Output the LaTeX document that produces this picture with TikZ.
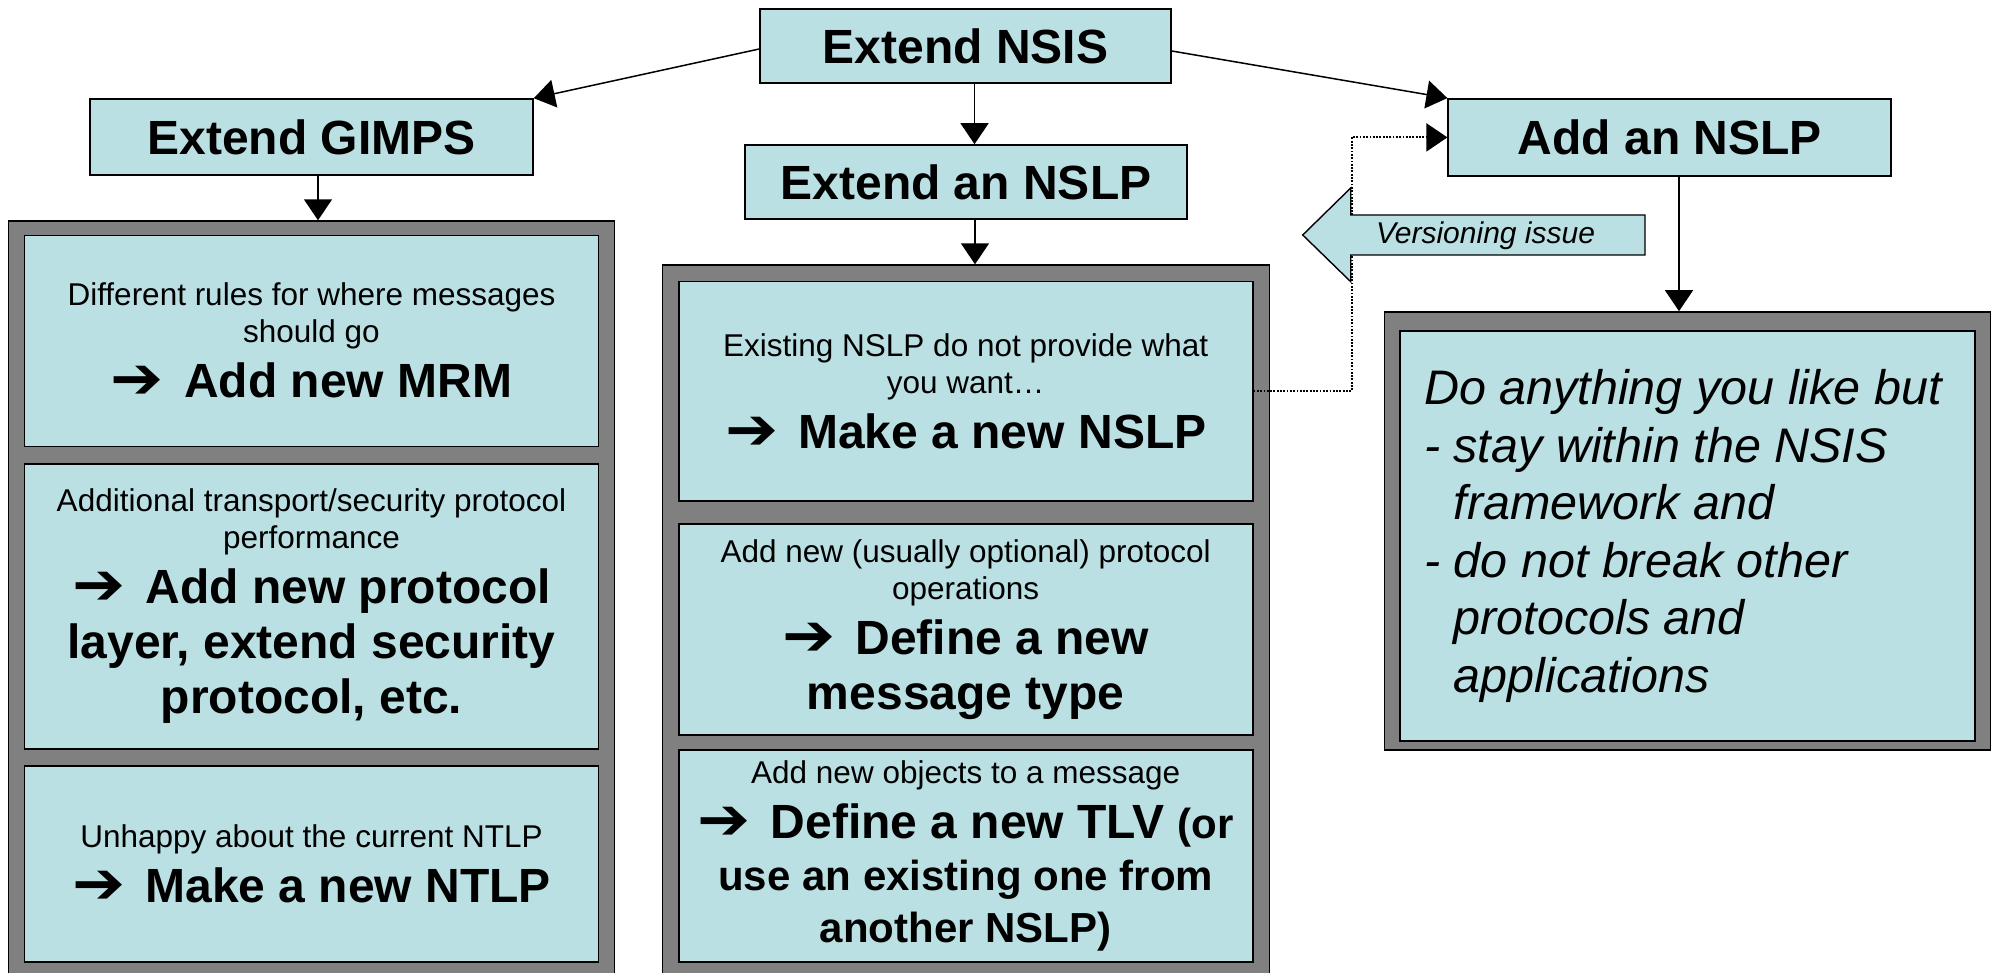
\documentclass[tikz,border=0pt]{standalone}
\usepackage{fontspec}
\usepackage{graphicx}
\setmainfont{Liberation Sans}
\newfontfamily\arrowfont{DejaVu Sans}
\usetikzlibrary{arrows.meta}
\definecolor{boxblue}{RGB}{187,224,227}
\definecolor{panegray}{RGB}{128,128,128}
% text sizes, with rigid interword spaces
\newcommand{\fixspace}{\spaceskip=\fontdimen2\font\xspaceskip=\spaceskip\relax}
\newcommand{\smalltxt}{\fontsize{31.5}{37}\selectfont\fixspace}
\newcommand{\bigtxt}{\fontsize{48}{55}\selectfont\bfseries\fixspace}
\newcommand{\midtxt}{\fontsize{42}{52}\selectfont\bfseries\fixspace}
\newcommand{\notetxt}{\fontsize{48.5}{57.5}\selectfont\itshape\fixspace}
\newcommand{\nextstep}{\raisebox{-1pt}{\scalebox{1.32}[1.22]{\arrowfont ➔}}\hspace{0.42em}}

\begin{document}
\begin{tikzpicture}
  [x=1pt,y=-1pt,
   head/.style={draw,fill=boxblue,line width=1.6pt,inner sep=0pt,font=\bigtxt},
   pane/.style={draw,fill=panegray,line width=1.4pt,inner sep=0pt},
   card/.style={draw,fill=boxblue,line width=1.8pt,inner sep=0pt,align=center,
                text width=560pt,minimum width=574pt},
   link/.style={line width=1.5pt,-{Triangle[length=21pt,width=28pt]}},
   dotlink/.style={line width=1.8pt,dash pattern=on 1.8pt off 1.5pt,
                   -{Triangle[length=21pt,width=28pt]}}]
\useasboundingbox (0,0) rectangle (1993,973);
\clip (0,0) rectangle (1993,973);

% grey panels
\node[pane,minimum width=606pt,minimum height=779pt] (gpane) at (311.5,610.5) {};
\node[pane,minimum width=607pt,minimum height=735pt] (mpane) at (965.7,632.5) {};
\node[pane,minimum width=606pt,minimum height=438pt] (rpane) at (1687.6,530.9) {};

% GIMPS column
\node[card,minimum height=211pt] (g1) at (311.5,341)
  {\smalltxt Different rules for where messages\\ should go\par
   \bigtxt\nextstep Add new MRM\par};
\node[card,minimum height=285pt] (g2) at (311.5,606.3)
  {\smalltxt Additional transport/security protocol\\ performance\par
   \bigtxt\nextstep Add new protocol\\ layer, extend security\\ protocol, etc.\par};
\node[card,minimum height=196pt] (g3) at (311.5,863.7)
  {\smalltxt Unhappy about the current NTLP\par
   \bigtxt\nextstep Make a new NTLP\par};

% NSLP column
\node[card,minimum height=219pt] (m1) at (965.7,391.1)
  {\smalltxt Existing NSLP do not provide what\\ you want…\par
   \bigtxt\nextstep Make a new NSLP\par};
\node[card,minimum height=211pt] (m2) at (965.7,629.3)
  {\smalltxt Add new (usually optional) protocol\\ operations\par
   \bigtxt\nextstep Define a new\\ message type\par};
\node[card,minimum height=212pt] (m3) at (965.7,855.8)
  {\smalltxt Add new objects to a message\par
   \bigtxt\nextstep Define a new TLV {\midtxt(or}\par
   \midtxt use an existing one from\\ another NSLP)\par};

% new NSLP
\node[card,text width=527pt,minimum width=575pt,minimum height=410pt,align=left] (r1) at (1687.6,536)
  {\notetxt Do anything you like but\\
   - stay within the NSIS\\
   \hphantom{-\ }framework and\\
   - do not break other\\
   \hphantom{-\ }protocols and\\
   \hphantom{-\ }applications\par};

% top boxes
\node[head,minimum width=411pt,minimum height=74pt] (nsis) at (965.5,46) {Extend NSIS};
\node[head,minimum width=443pt,minimum height=76pt] (gimps) at (311.5,137) {Extend GIMPS};
\node[head,minimum width=442pt,minimum height=74pt] (nslp) at (966,182) {Extend an NSLP};
\node[head,minimum width=443pt,minimum height=77pt] (add) at (1669.7,137.4) {Add an NSLP};

\draw[link] ([yshift=-3pt]nsis.west) -- (gimps.north east);
\draw[link] ([yshift=-5pt]nsis.east) -- (add.north west);
\draw[link] ([xshift=9pt]nsis.south) -- ([xshift=9pt]nsis.south |- nslp.north);
\draw[link] ([xshift=6.5pt]gimps.south) -- ([xshift=6.5pt]gimps.south |- gpane.north);
\draw[link] ([xshift=9pt]nslp.south) -- ([xshift=9pt]nslp.south |- mpane.north);
\draw[link] ([xshift=9.3pt]add.south) -- ([xshift=9.3pt]add.south |- rpane.north);

% versioning
\draw[dotlink] (m1.east) -- ++(98,0) |- (add.west);
\draw[line width=1.4pt,fill=boxblue] (1645,215) -- (1350.7,215) -- (1350.7,188)
  -- (1302.7,235) -- (1350.7,281.7) -- (1350.7,255) -- (1645,255) -- cycle;
\node[font=\fontsize{30}{36}\selectfont\itshape] (verlabel) at (1485.5,236) {Versioning issue};
\end{tikzpicture}
\end{document}
